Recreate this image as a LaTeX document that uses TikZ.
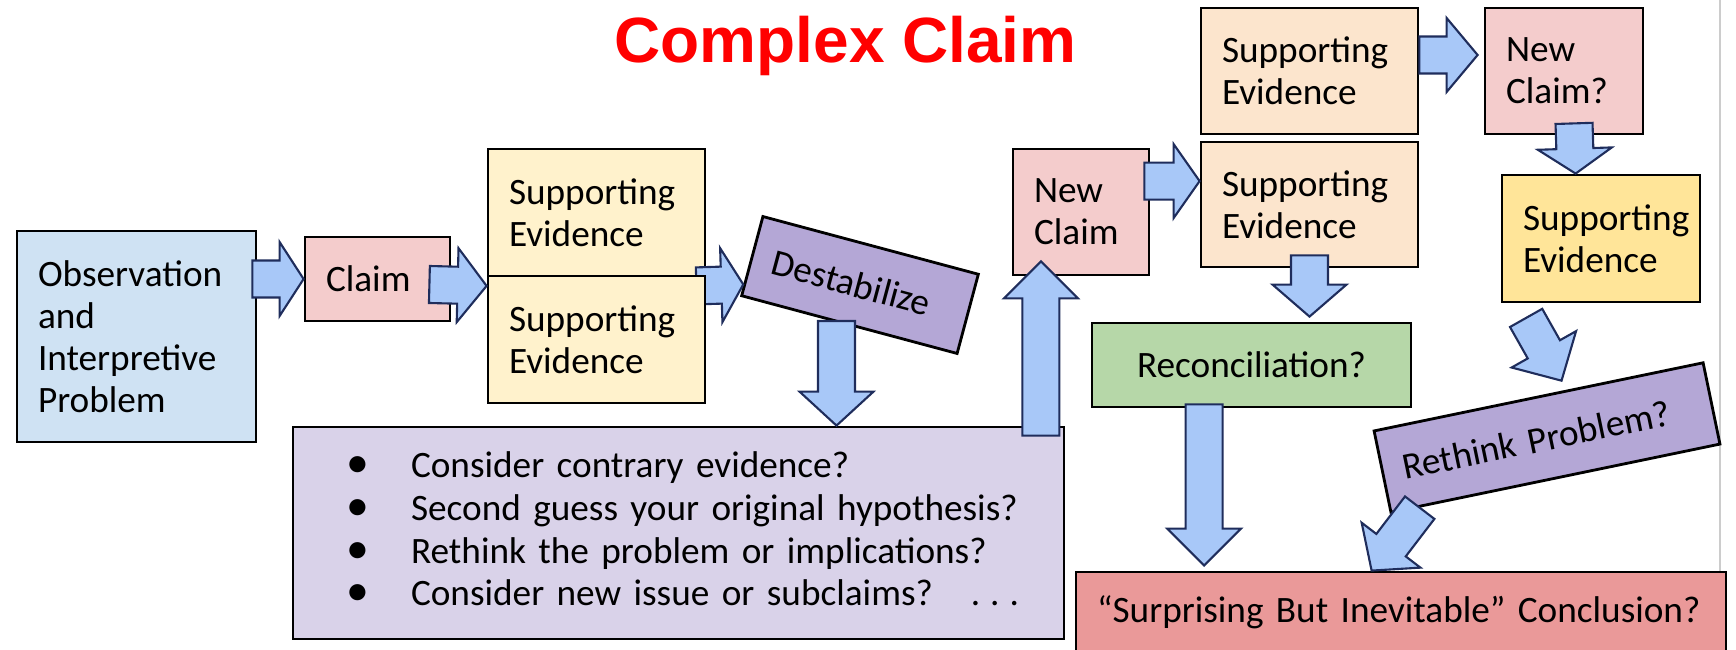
\documentclass[tikz,border=0pt]{standalone}
\usepackage{fontspec}
\setmainfont{Carlito}
\newfontfamily\titlefont{Liberation Sans}
\usepackage{tikz}
\usetikzlibrary{calc}
\definecolor{obsBlue}{HTML}{CFE2F3}
\definecolor{claimPink}{HTML}{F4CCCC}
\definecolor{evidYellow}{HTML}{FFF2CC}
\definecolor{evidPeach}{HTML}{FCE5CD}
\definecolor{evidGold}{HTML}{FFE599}
\definecolor{destabPurple}{HTML}{B4A7D6}
\definecolor{listLilac}{HTML}{D9D2E9}
\definecolor{reconGreen}{HTML}{B6D7A8}
\definecolor{conclRed}{HTML}{EA9999}
\definecolor{arrowFill}{HTML}{A8C8F8}
\definecolor{arrowEdge}{HTML}{1F2D5C}

% block arrow: [head length in cm]{tail}{tip}
\newcommand{\fatarrow}[3][0.30]{%
  \coordinate (fa-s) at #2;
  \coordinate (fa-e) at #3;
  \coordinate (fa-h) at ($(fa-e)!#1cm!(fa-s)$);
  \draw[fatarr] ($(fa-s)!0.185cm!90:(fa-e)$) -- ($(fa-h)!0.185cm!90:(fa-e)$)
    -- ($(fa-h)!0.37cm!90:(fa-e)$) -- (fa-e) -- ($(fa-h)!0.37cm!-90:(fa-e)$)
    -- ($(fa-h)!0.185cm!-90:(fa-e)$) -- ($(fa-s)!0.185cm!-90:(fa-e)$) -- cycle;
}
\newcommand{\bigdot}{{\fontsize{13}{12}\selectfont\textbullet}}

\begin{document}
\begin{tikzpicture}[
    font=\fontsize{10.6}{12}\selectfont,
    box/.style={draw=black, line width=0.8pt, inner xsep=0.21cm, inner ysep=0pt, align=left},
    headline/.style={font=\titlefont\bfseries\fontsize{18.2}{20}\selectfont, text=red, anchor=base},
    fatarr/.style={fill=arrowFill, draw=arrowEdge, line width=0.6pt, line join=miter}
]
\useasboundingbox (0,0) rectangle (17.36,-6.5);
\clip (0,0) rectangle (17.36,-6.5);

% Slide edge.
\draw[gray!40, line width=0.6pt] (17.2,0) -- (17.2,-5.72);

\node[headline] (ttl) at (8.455,-0.63) {Complex Claim};

% First claim and its evidence.
\node[box, fill=obsBlue, text width=1.97cm, minimum height=2.11cm] (obs) at (1.365,-3.365) {Observation\\and\\Interpretive\\Problem};
\node[box, fill=claimPink, text width=1.03cm, minimum height=0.84cm] (claim) at (3.775,-2.79) {Claim};
\node[box, fill=evidYellow, text width=1.75cm, minimum height=1.27cm] (se1) at (5.965,-2.125) {Supporting\\Evidence};
\node[box, fill=destabPurple, text width=1.81cm, minimum height=0.82cm, rotate=-15] (destab) at (8.60,-2.85) {Destabilize};
\fatarrow[0.22]{($(se1.south east)+(-0.10,-0.085)$)}{($(destab.south west)!0.15!(destab.north west)$)}
\node[box, fill=evidYellow, text width=1.75cm, minimum height=1.27cm] (se2) at (5.965,-3.395) {Supporting\\Evidence};

\node[box, fill=listLilac, text width=6.65cm, inner xsep=0.53cm, minimum height=2.12cm, font=\fontsize{10.6}{12.2}\selectfont] (bullets) at (6.785,-5.33) {%
    \raisebox{-0.06cm}{\begin{tabular}{@{}p{0.65cm}@{}l@{}}
    \bigdot & Consider contrary evidence?\\
    \bigdot & Second guess your original hypothesis?\\
    \bigdot & Rethink the problem or implications?\\
    \bigdot & Consider new issue or subclaims?\hspace{0.38cm}.\hspace{0.1cm}.\hspace{0.1cm}.
    \end{tabular}}};

% New claims.
\node[box, fill=claimPink, text width=0.94cm, minimum height=1.26cm] (newclaim) at (10.81,-2.12) {New\\Claim};
\node[box, fill=evidPeach, text width=1.75cm, minimum height=1.26cm] (setop) at (13.095,-0.71) {Supporting\\Evidence};
\node[box, fill=evidPeach, text width=1.75cm, minimum height=1.25cm] (semid) at (13.095,-2.045) {Supporting\\Evidence};
\node[box, fill=claimPink, text width=1.16cm, minimum height=1.26cm] (ncq) at (15.64,-0.71) {New\\Claim?};
\node[box, fill=evidGold, text width=1.56cm, minimum height=1.27cm] (seyel) at (16.01,-2.385) {Supporting\\Evidence};
\node[box, fill=reconGreen, text width=2.77cm, minimum height=0.84cm, align=center] (recon) at (12.515,-3.65) {Reconciliation?};
\node[box, fill=destabPurple, text width=2.94cm, minimum height=0.83cm, rotate=11.7] (rethink) at (15.47,-4.375) {Rethink Problem?};
\node[box, fill=conclRed, text width=6.08cm, minimum height=0.80cm] (concl) at (14.01,-6.12) {“Surprising But Inevitable” Conclusion?};

% Block arrows.
\coordinate (dsTail) at ($(destab.center)+(-0.235,-0.36)$);
\coordinate (upTail) at ($(bullets.north east)+(-0.245,-0.10)$);
\coordinate (ncTail) at ($(newclaim.north east)+(-0.06,-0.335)$);
\coordinate (rcTail) at ($(recon.south west)+(1.135,0.04)$);
\coordinate (stTail) at ($(setop.east)+(0,0.16)$);
\fatarrow[0.24]{($(obs.east |- claim.west)+(-0.05,0)$)}{(claim.west)}
\fatarrow[0.29]{($(claim.east)+(-0.22,-0.055)$)}{($(se1.south west)+(0,-0.085)$)}
\fatarrow[0.34]{(dsTail)}{(dsTail |- bullets.north)}
\fatarrow[0.37]{(upTail)}{($(upTail |- newclaim.south)+(0,0.15)$)}
\fatarrow[0.26]{(ncTail)}{(ncTail -| semid.west)}
\fatarrow[0.32]{($(semid.south)+(0,0.13)$)}{($(semid.south |- recon.north)+(0,0.05)$)}
\fatarrow[0.37]{(rcTail)}{($(rcTail |- concl.north)+(0,0.05)$)}
\fatarrow[0.31]{(stTail)}{($(stTail -| ncq.west)+(-0.06,0)$)}
\fatarrow[0.25]{($(ncq.south)+(0.10,0.12)$)}{($(seyel.north west)+(0.75,0)$)}
\fatarrow[0.36]{($(seyel.south west)+(0.255,-0.145)$)}{($(rethink.north west)!0.57!(rethink.north east)+(0,0.1)$)}
\fatarrow[0.32]{($(rethink.south west)!0.09!(rethink.south east)$)}{($(concl.north west)+(2.97,0)$)}
\end{tikzpicture}
\end{document}
